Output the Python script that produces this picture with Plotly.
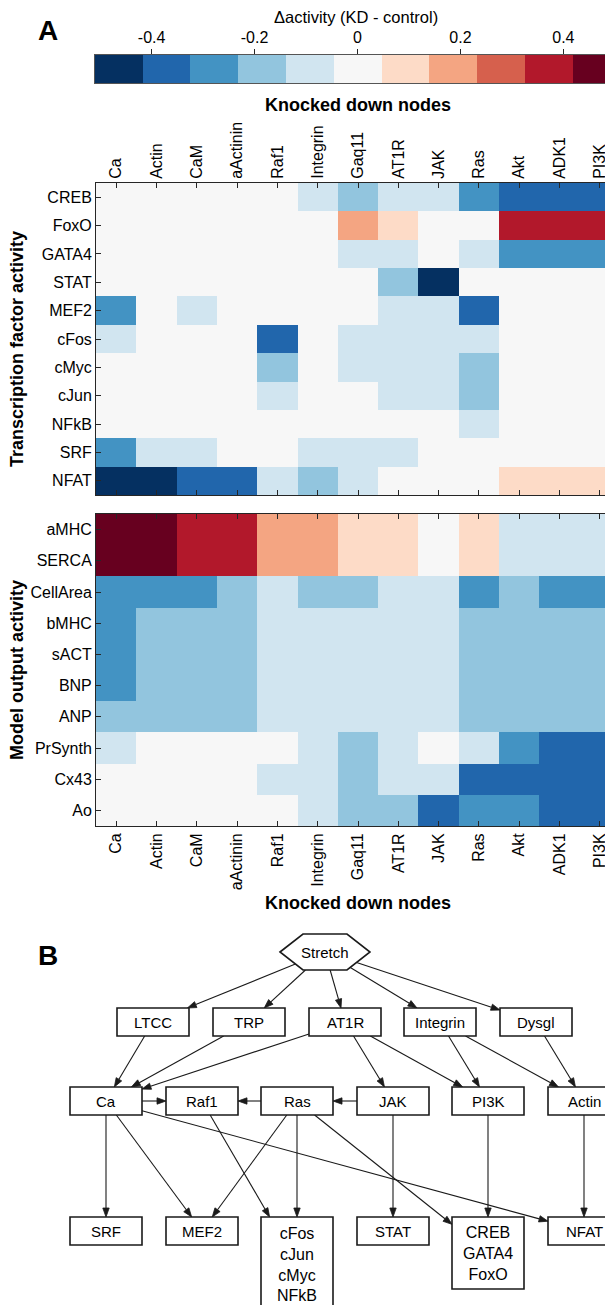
import plotly.graph_objects as go

W, H = 613, 1305
FONT = "Liberation Sans, Arial, sans-serif"

# ---- panel A data: change in activity after knockdown (KD - control)
kd_nodes = ["Ca", "Actin", "CaM", "aActinin", "Raf1", "Integrin", "Gaq11",
            "AT1R", "JAK", "Ras", "Akt", "ADK1", "PI3K"]

tf_names = ["CREB", "FoxO", "GATA4", "STAT", "MEF2", "cFos", "cMyc",
            "cJun", "NFkB", "SRF", "NFAT"]
tf_delta = [
    [0, 0, 0, 0, 0, -0.09, -0.19, -0.09, -0.09, -0.28, -0.37, -0.37, -0.37],
    [0, 0, 0, 0, 0, 0, 0.19, 0.09, 0, 0, 0.37, 0.37, 0.37],
    [0, 0, 0, 0, 0, 0, -0.09, -0.09, 0, -0.09, -0.28, -0.28, -0.28],
    [0, 0, 0, 0, 0, 0, 0, -0.19, -0.45, 0, 0, 0, 0],
    [-0.28, 0, -0.09, 0, 0, 0, 0, -0.09, -0.09, -0.37, 0, 0, 0],
    [-0.09, 0, 0, 0, -0.37, 0, -0.09, -0.09, -0.09, -0.09, 0, 0, 0],
    [0, 0, 0, 0, -0.19, 0, -0.09, -0.09, -0.09, -0.19, 0, 0, 0],
    [0, 0, 0, 0, -0.09, 0, 0, -0.09, -0.09, -0.19, 0, 0, 0],
    [0, 0, 0, 0, 0, 0, 0, 0, 0, -0.09, 0, 0, 0],
    [-0.28, -0.09, -0.09, 0, 0, -0.09, -0.09, -0.09, 0, 0, 0, 0, 0],
    [-0.45, -0.45, -0.37, -0.37, -0.09, -0.19, -0.09, 0, 0, 0, 0.09, 0.09, 0.09],
]

out_names = ["aMHC", "SERCA", "CellArea", "bMHC", "sACT", "BNP", "ANP",
             "PrSynth", "Cx43", "Ao"]
out_delta = [
    [0.45, 0.45, 0.37, 0.37, 0.19, 0.19, 0.09, 0.09, 0, 0.09, -0.09, -0.09, -0.09],
    [0.45, 0.45, 0.37, 0.37, 0.19, 0.19, 0.09, 0.09, 0, 0.09, -0.09, -0.09, -0.09],
    [-0.28, -0.28, -0.28, -0.19, -0.09, -0.19, -0.19, -0.09, -0.09, -0.28, -0.19, -0.28, -0.28],
    [-0.28, -0.19, -0.19, -0.19, -0.09, -0.09, -0.09, -0.09, -0.09, -0.19, -0.19, -0.19, -0.19],
    [-0.28, -0.19, -0.19, -0.19, -0.09, -0.09, -0.09, -0.09, -0.09, -0.19, -0.19, -0.19, -0.19],
    [-0.28, -0.19, -0.19, -0.19, -0.09, -0.09, -0.09, -0.09, -0.09, -0.19, -0.19, -0.19, -0.19],
    [-0.19, -0.19, -0.19, -0.19, -0.09, -0.09, -0.09, -0.09, -0.09, -0.19, -0.19, -0.19, -0.19],
    [-0.09, 0, 0, 0, 0, -0.09, -0.19, -0.09, 0, -0.09, -0.28, -0.37, -0.37],
    [0, 0, 0, 0, -0.09, -0.09, -0.19, -0.09, -0.09, -0.37, -0.37, -0.37, -0.37],
    [0, 0, 0, 0, 0, -0.09, -0.19, -0.19, -0.37, -0.28, -0.28, -0.37, -0.37],
]

# colour bar: one cell per colour level
cb_values = [-0.464, -0.371, -0.278, -0.185, -0.093, 0.0,
             0.093, 0.185, 0.278, 0.371, 0.464]
cb_ticks = [-0.4, -0.2, 0, 0.2, 0.4]
cb_ticktext = ["-0.4", "-0.2", "0", "0.2", "0.4"]
ZLIM = 0.51

level_colors = ["#053061", "#2166ac", "#4393c3", "#92c5de", "#d1e5f0", "#f7f7f7",
                "#fddbc7", "#f4a582", "#d6604d", "#b2182b", "#67001f"]

# ---- panel B data: network
net_ids = ["Stretch", "LTCC", "TRP", "AT1R", "Integrin", "Dysgl",
           "Ca", "Raf1", "Ras", "JAK", "PI3K", "Actin",
           "SRF", "MEF2", "AP", "STAT", "CG", "NFAT"]
net_labels = ["Stretch", "LTCC", "TRP", "AT1R", "Integrin", "Dysgl",
              "Ca", "Raf1", "Ras", "JAK", "PI3K", "Actin",
              "SRF", "MEF2", "cFos<br>cJun<br>cMyc<br>NFkB", "STAT",
              "CREB<br>GATA4<br>FoxO", "NFAT"]
net_x = [317, 145, 241, 337, 432, 528,
         98, 194, 289, 385, 480, 576,
         98, 194, 289, 385, 480, 576]
net_top = [926, 1000, 1000, 1000, 1000, 1000,
           1079, 1079, 1079, 1079, 1079, 1079,
           1209, 1209, 1209, 1209, 1209, 1209]
net_edges = [("Stretch", "LTCC"), ("Stretch", "TRP"), ("Stretch", "AT1R"),
             ("Stretch", "Integrin"), ("Stretch", "Dysgl"),
             ("LTCC", "Ca"), ("TRP", "Ca"), ("AT1R", "Ca"), ("AT1R", "JAK"),
             ("AT1R", "PI3K"), ("Integrin", "PI3K"), ("Integrin", "Actin"),
             ("Dysgl", "Actin"),
             ("Ca", "Raf1"), ("Ras", "Raf1"), ("JAK", "Ras"),
             ("Ca", "SRF"), ("Ca", "MEF2"), ("Ca", "NFAT"), ("Raf1", "AP"),
             ("Ras", "MEF2"), ("Ras", "AP"), ("Ras", "CG"), ("JAK", "STAT"),
             ("PI3K", "CG"), ("Actin", "NFAT")]


def py(ypx):
    return 1 - ypx / H


colorscale = []
for k, c in enumerate(level_colors):
    colorscale.append([k / len(level_colors), c])
    colorscale.append([(k + 1) / len(level_colors), c])

fig = go.Figure()
fig.add_trace(go.Heatmap(z=tf_delta, x=kd_nodes, y=tf_names, zmin=-ZLIM, zmax=ZLIM,
                         colorscale=colorscale, showscale=False, xaxis="x", yaxis="y"))
fig.add_trace(go.Heatmap(z=out_delta, x=kd_nodes, y=out_names, zmin=-ZLIM, zmax=ZLIM,
                         colorscale=colorscale, showscale=False, xaxis="x2", yaxis="y2"))
fig.add_trace(go.Heatmap(z=[cb_values], x=cb_values, y=[0], zmin=-ZLIM, zmax=ZLIM,
                         colorscale=colorscale, showscale=False, xaxis="x4", yaxis="y4"))

axcol = "#262626"
tickfont = dict(family=FONT, size=16, color="black")
common = dict(ticks="inside", ticklen=5, tickcolor=axcol, mirror="allticks",
              showline=True, linecolor=axcol, linewidth=1, tickfont=tickfont,
              showgrid=False, zeroline=False, fixedrange=True)
xdom = [88 / W, 612 / W]

fig.update_layout(
    xaxis=dict(domain=xdom, anchor="y", side="top", tickangle=-90, **common),
    yaxis=dict(domain=[py(487), py(175)], anchor="x", autorange="reversed", **common),
    xaxis2=dict(domain=xdom, anchor="y2", side="bottom", tickangle=-90, **common),
    yaxis2=dict(domain=[py(818), py(506)], anchor="x2", autorange="reversed", **common),
    xaxis4=dict(domain=[87 / W, 612 / W], anchor="y4", side="top", range=[-ZLIM, ZLIM],
                tickvals=cb_ticks, ticktext=cb_ticktext, ticks="outside", ticklen=5,
                tickcolor=axcol, showline=True, mirror=True, linecolor="#555555",
                tickfont=tickfont, showgrid=False, zeroline=False, fixedrange=True),
    yaxis4=dict(domain=[py(75), py(47)], anchor="x4", range=[-0.5, 0.5],
                showticklabels=False, ticks="", showline=True, mirror=True,
                linecolor="#555555", showgrid=False, zeroline=False, fixedrange=True),
    xaxis3=dict(domain=[0, 1], anchor="y3", range=[0, W], visible=False, fixedrange=True),
    yaxis3=dict(domain=[0, py(900)], anchor="x3", range=[H, 900], visible=False,
                fixedrange=True),
)

# ---- network drawing
HW, HH = 36, 14          # half size of one-line boxes
HEX_W, HEX_TOP, HEX_H = 45, 22, 18


def node_poly(i):
    cx = net_x[i]
    if net_ids[i] == "Stretch":
        cy = net_top[i] + HEX_H
        return [(cx - HEX_W, cy), (cx - HEX_TOP, cy - HEX_H), (cx + HEX_TOP, cy - HEX_H),
                (cx + HEX_W, cy), (cx + HEX_TOP, cy + HEX_H), (cx - HEX_TOP, cy + HEX_H)]
    nlines = net_labels[i].count("<br>") + 1
    h = 22 * nlines + 6
    t = net_top[i]
    return [(cx - HW, t), (cx + HW, t), (cx + HW, t + h), (cx - HW, t + h)]


def center(poly):
    xs = [p[0] for p in poly]
    ys = [p[1] for p in poly]
    return (min(xs) + max(xs)) / 2, (min(ys) + max(ys)) / 2


def clip(poly, c, d):
    # first crossing of ray c + t*d (t>0) with polygon boundary
    best = None
    n = len(poly)
    for k in range(n):
        (x1, y1), (x2, y2) = poly[k], poly[(k + 1) % n]
        ex, ey = x2 - x1, y2 - y1
        den = d[0] * ey - d[1] * ex
        if abs(den) < 1e-9:
            continue
        t = ((x1 - c[0]) * ey - (y1 - c[1]) * ex) / den
        s = ((x1 - c[0]) * d[1] - (y1 - c[1]) * d[0]) / den
        if t > 0 and -1e-9 <= s <= 1 + 1e-9:
            if best is None or t < best:
                best = t
    return c[0] + best * d[0], c[1] + best * d[1]


shapes = []
annotations = []
polys = [node_poly(i) for i in range(len(net_ids))]
idx = {n: i for i, n in enumerate(net_ids)}
lc = "#1a1a1a"

for a, b in net_edges:
    pa, pb = polys[idx[a]], polys[idx[b]]
    ca, cb = center(pa), center(pb)
    d = (cb[0] - ca[0], cb[1] - ca[1])
    x0, y0 = clip(pa, ca, d)
    x1, y1 = clip(pb, cb, (-d[0], -d[1]))
    L = (d[0] ** 2 + d[1] ** 2) ** 0.5
    ux, uy = d[0] / L, d[1] / L
    hl, hw = 9, 3.2
    bx, by = x1 - ux * hl, y1 - uy * hl
    shapes.append(dict(type="line", xref="x3", yref="y3", x0=x0, y0=y0, x1=bx, y1=by,
                       line=dict(color=lc, width=1.1)))
    path = "M{},{} L{},{} L{},{} Z".format(
        x1, y1, bx - uy * hw, by + ux * hw, bx + uy * hw, by - ux * hw)
    shapes.append(dict(type="path", xref="x3", yref="y3", path=path,
                       fillcolor=lc, line=dict(color=lc, width=0.8)))

for i, poly in enumerate(polys):
    path = "M" + " L".join("{},{}".format(px, pyy) for px, pyy in poly) + " Z"
    shapes.append(dict(type="path", xref="x3", yref="y3", path=path,
                       fillcolor="white", line=dict(color=lc, width=1.6)))
    cx, cy = center(poly)
    size = 16 if "<br>" in net_labels[i] else 15
    annotations.append(dict(x=cx, y=cy, xref="x3", yref="y3", text=net_labels[i],
                            xanchor="center", yanchor="middle", showarrow=False,
                            font=dict(family=FONT, size=size, color="black")))

# ---- titles and panel letters
bold = dict(family=FONT, size=18, color="black")
letter = dict(family=FONT, size=28, color="black")


def label(x, y, text, font, angle=0):
    return dict(x=x / W, y=py(y), xref="paper", yref="paper", text=text,
                xanchor="center", yanchor="middle", textangle=angle,
                showarrow=False, font=font)


annotations += [
    label(40, 23, "<b>A</b>", letter),
    label(40, 947, "<b>B</b>", letter),
    label(348, 9, "Δactivity (KD - control)", dict(family=FONT, size=16.5, color="black")),
    label(350, 97, "<b>Knocked down nodes</b>", bold),
    label(350, 895, "<b>Knocked down nodes</b>", bold),
    label(9, 341, "<b>Transcription factor activity</b>", bold, -90),
    label(9, 662, "<b>Model output activity</b>", bold, -90),
]

fig.update_layout(width=W, height=H, margin=dict(l=0, r=0, t=0, b=0),
                  paper_bgcolor="white", plot_bgcolor="white",
                  shapes=shapes, annotations=annotations, showlegend=False,
                  font=dict(family=FONT))

fig.write_html("out.html")
